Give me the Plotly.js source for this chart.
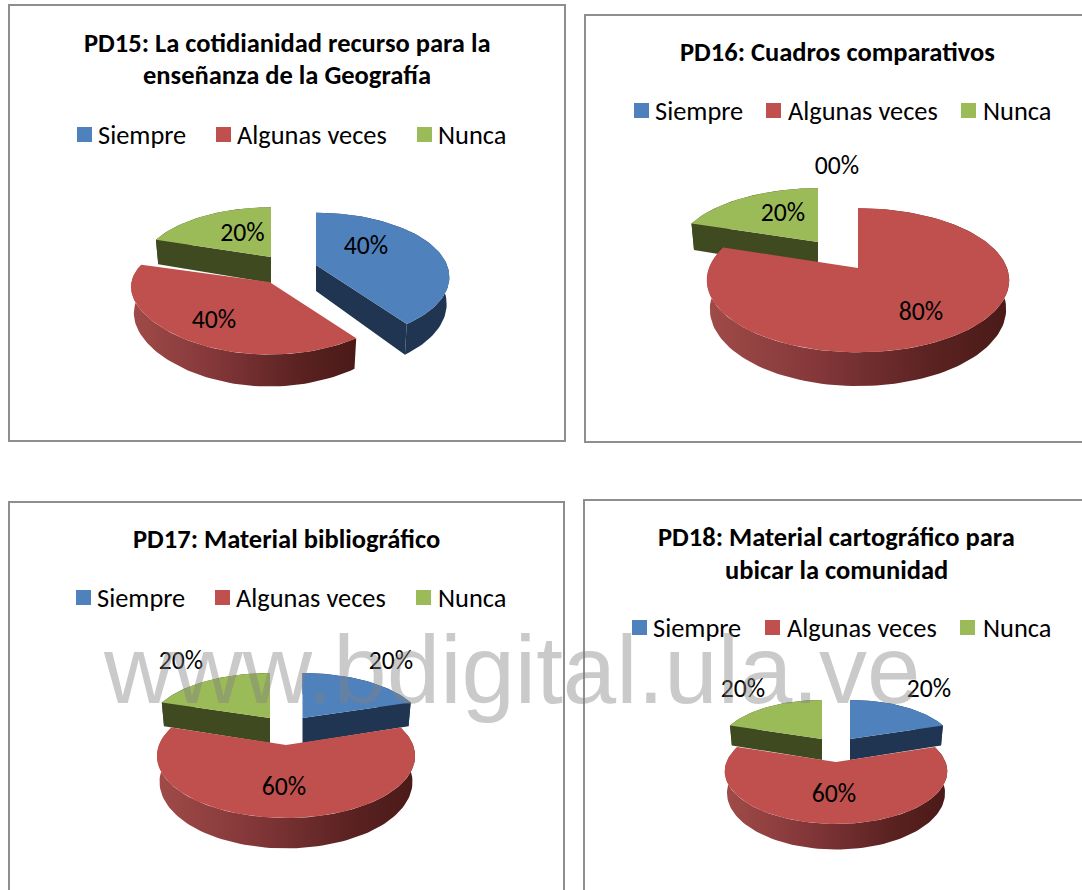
<!DOCTYPE html>
<html><head><meta charset="utf-8">
<script src="https://cdn.plot.ly/plotly-3.0.1.min.js"></script>
<style>html,body{margin:0;padding:0;background:#fff;overflow:hidden}</style>
</head><body><div id="chart" style="width:1082px;height:890px"></div>
<script>
const categories = ["Siempre", "Algunas veces", "Nunca"];
const pd15Values = [40, 40, 20];
const pd16Values = [0, 80, 20];
const pd17Values = [20, 60, 20];
const pd18Values = [20, 60, 20];
const pd15Title = ["PD15: La cotidianidad recurso para la", "enseñanza de la Geografía"];
const pd16Title = ["PD16: Cuadros comparativos"];
const pd17Title = ["PD17: Material bibliográfico"];
const pd18Title = ["PD18: Material cartográfico para", "ubicar la comunidad"];
const watermark = "www.bdigital.ula.ve";

const topColors = ["#4f81bd", "#c0504d", "#9bbb59"];
const faceColors = ["#1f3552", "#5a2423", "#3f4a20"];
const wallScales = [
  [[0, "#1f3552"], [1, "#1f3552"]],
  [[0, "#a04b48"], [0.35, "#85383a"], [0.75, "#5a2221"], [1, "#4a1a18"]],
  [[0, "#3f4a20"], [1, "#3f4a20"]]
];
const FONT = "Carlito, Lato, sans-serif";

// Placement of each panel: frame, title, legend, and slice geometry (apex, radius, flattening).
const panels = [
  {values: pd15Values, title: pd15Title, frame: [9, 5, 565, 441], cx: 287, titleY: [43, 75],
   legendY: 134.5, squares: [84.5, 223.5, 424.5], texts: [96, 235, 436], p: 0.187, D: 26,
   slices: [{ax: 316, ay: 265, R: 131, k: 62}, {ax: 269.5, ay: 282, R: 138, k: 59, xp: 0.08}, {ax: 271, ay: 257, R: 128, k: 59}],
   labels: [[366, 248], [214, 322], [242.5, 235]]},
  {values: pd16Values, title: pd16Title, frame: [585, 15, 1084, 442], cx: 837.5, titleY: [52],
   legendY: 110.5, squares: [641.5, 773.5, 968.5], texts: [653, 786, 981], p: 0.17, D: 28,
   slices: [null, {ax: 858, ay: 268, R: 149, k: 70}, {ax: 818, ay: 242, R: 140, k: 63}],
   labels: [[837, 168], [921, 314], [783, 215]]},
  {values: pd17Values, title: pd17Title, frame: [9, 502, 564, 896], cx: 286, titleY: [539],
   legendY: 597.5, squares: [83.5, 222.5, 423.5], texts: [95, 234, 436], p: 0.178, D: 25,
   slices: [{ax: 302.5, ay: 718, R: 120, k: 53}, {ax: 286, ay: 745, R: 127, k: 60}, {ax: 270, ay: 718, R: 120, k: 53}],
   labels: [[391, 663], [284, 789], [181, 663]]},
  {values: pd18Values, title: pd18Title, frame: [584, 500, 1084, 896], cx: 836, titleY: [537, 570],
   legendY: 627.5, squares: [639.5, 772.5, 967.5], texts: [651, 785, 981], p: 0.177, D: 21,
   slices: [{ax: 850, ay: 739, R: 103, k: 46}, {ax: 836, ay: 762, R: 109.5, k: 51}, {ax: 822, ay: 739, R: 102, k: 46}],
   labels: [[929, 691], [834, 796], [743, 691]]}
];

function project(geo, p, deg, rad, drop) {
  const t = deg * Math.PI / 180;
  const X = Math.sin(t) * rad, Y = Math.cos(t) * rad;
  const s = 1 / (1 + p.p * Y);
  const sx = 1 / (1 + (geo.xp === undefined ? p.p : geo.xp) * Y);
  const rim = drop > 0 ? 0.98 : 1;
  return [geo.ax + geo.R * X * sx * rim, geo.ay - geo.k * Y * s + drop * s];
}
function arc(geo, p, a, b, drop) {
  const n = Math.max(2, Math.ceil((b - a) / 2)), out = [];
  for (let i = 0; i <= n; i++) out.push(project(geo, p, a + (b - a) * i / n, 1, drop));
  return out;
}
function poly(points, color, gradient) {
  const tr = {type: "scatter", mode: "lines", x: points.map(q => q[0]), y: points.map(q => q[1]),
    fill: "toself", line: {width: 0, color: color}, fillcolor: color, hoverinfo: "skip", showlegend: false};
  if (gradient) tr.fillgradient = {type: "horizontal", colorscale: gradient};
  return tr;
}

const traces = [], annotations = [], shapes = [];
panels.forEach(function (p) {
  shapes.push({type: "rect", layer: "below", x0: p.frame[0], y0: p.frame[1], x1: p.frame[2], y1: p.frame[3],
    line: {color: "#8e8e8e", width: 2}, fillcolor: "#ffffff"});
  p.title.forEach(function (line, i) {
    annotations.push({x: p.cx, y: p.titleY[i], text: line, showarrow: false, xanchor: "center", yanchor: "middle",
      font: {family: FONT, size: 26.5, color: "#000", weight: 700}});
  });
  const total = p.values.reduce((a, b) => a + b, 0);
  let acc = 0;
  const spans = p.values.map(function (v) { const a = acc; acc += v; return [a / total * 360, acc / total * 360]; });
  // Painter's order: back slices first, the large front slice last.
  [2, 0, 1].forEach(function (i) {
    const geo = p.slices[i];
    if (!geo || p.values[i] === 0) return;
    const a = spans[i][0], b = spans[i][1];
    const low = arc(geo, p, a, b, p.D), high = arc(geo, p, a, b, 0);
    traces.push(poly(high.concat(low.slice().reverse()), faceColors[i], wallScales[i]));
    const apex = project(geo, p, 0, 0, 0);
    if (Math.sin(a * Math.PI / 180) < -1e-6) {
      const e = project(geo, p, a, 1, 0), f = project(geo, p, a, 1, p.D);
      traces.push(poly([apex, e, f, [apex[0], apex[1] + p.D], apex], faceColors[i]));
    }
    if (Math.sin(b * Math.PI / 180) > 1e-6) {
      const e = project(geo, p, b, 1, 0), f = project(geo, p, b, 1, p.D);
      traces.push(poly([apex, e, f, [apex[0], apex[1] + p.D], apex], faceColors[i]));
    }
    traces.push(poly([apex].concat(high, [apex]), topColors[i]));
  });
  // Legend
  traces.push({type: "scatter", mode: "markers", x: p.squares, y: categories.map(() => p.legendY),
    marker: {symbol: "square", size: 15, color: topColors, line: {width: 0}}, hoverinfo: "skip", showlegend: false});
  categories.forEach(function (c, i) {
    annotations.push({x: p.texts[i], y: p.legendY, text: c, showarrow: false, xanchor: "left", yanchor: "middle",
      font: {family: FONT, size: 26.4, color: "#000"}});
  });
  // Percent labels
  traces.push({type: "scatter", mode: "text", x: p.labels.map(q => q[0]), y: p.labels.map(q => q[1]),
    text: p.values.map(v => String(v).padStart(2, "0") + "%"), textposition: "middle center",
    textfont: {family: FONT, size: 25.7, color: "#000"}, hoverinfo: "skip", showlegend: false});
});
annotations.push({x: 511.5, y: 669, text: watermark, showarrow: false, xanchor: "center", yanchor: "middle",
  font: {family: "Liberation Sans, Arial, sans-serif", size: 96, color: "rgba(128,128,128,0.42)"}});

Plotly.newPlot("chart", traces, {
  width: 1082, height: 890, margin: {l: 0, r: 0, t: 0, b: 0}, paper_bgcolor: "#fff", plot_bgcolor: "#fff",
  showlegend: false, shapes: shapes, annotations: annotations,
  xaxis: {range: [0, 1082], visible: false, fixedrange: true},
  yaxis: {range: [890, 0], visible: false, fixedrange: true}
}, {displayModeBar: false, staticPlot: true});
</script></body></html>
